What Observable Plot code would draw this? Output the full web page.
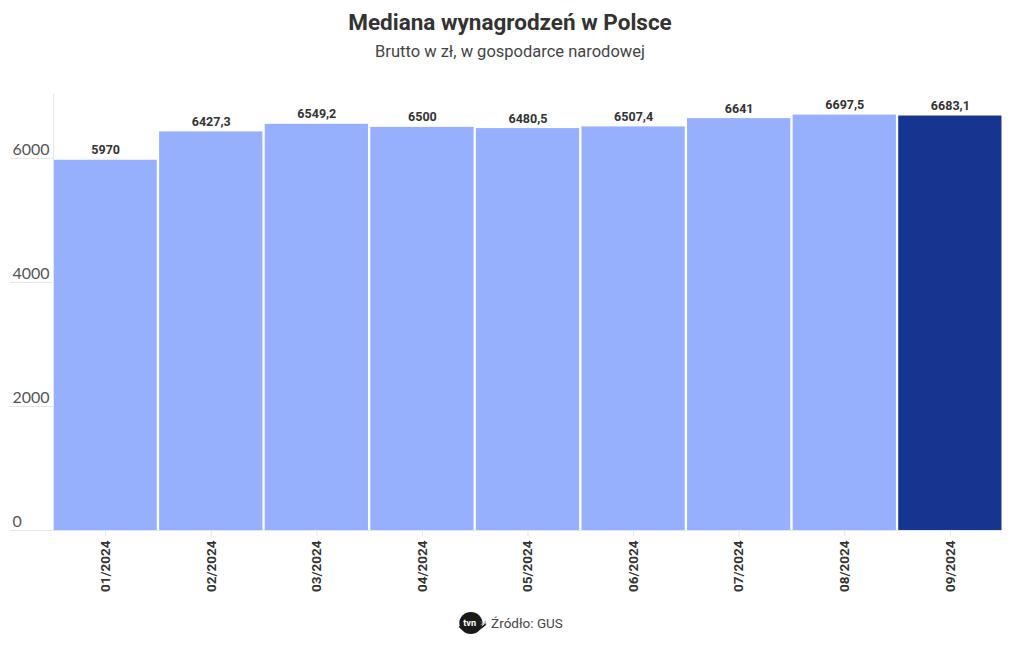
<!DOCTYPE html>
<html>
<head>
<meta charset="utf-8">
<script src="https://cdn.jsdelivr.net/npm/d3@7"></script>
<script src="https://cdn.jsdelivr.net/npm/@observablehq/plot@0.6"></script>
<style>
  body { margin: 0; background: #fff; font-family: Roboto, "Noto Sans", sans-serif; color: #333; }
  #wrap { width: 1020px; }
  .title { height: 36px; line-height: 36px; margin-top: 4px; text-align: center; font-size: 22.5px; font-weight: 700; color: #333; }
  .subtitle { height: 24px; line-height: 24px; text-align: center; font-size: 16.5px; color: #444; }
  #chart { margin-top: 6px; height: 540px; }
  .caption { height: 26px; line-height: 26px; text-align: center; font-size: 13.5px; color: #444; display: flex; justify-content: center; align-items: center; gap: 4px; }
</style>
</head>
<body>
<div id="wrap">
  <div class="title">Mediana wynagrodzeń w Polsce</div>
  <div class="subtitle">Brutto w zł, w gospodarce narodowej</div>
  <div id="chart"></div>
  <div class="caption">
    <svg width="30" height="26" viewBox="0 0 26 22"><ellipse cx="12" cy="11" rx="10" ry="9.5" fill="#1a1a1a"/><path d="M2 14 Q12 24 25 12" stroke="#1a1a1a" stroke-width="1.5" fill="none"/><text x="11" y="13.5" font-size="8" font-weight="700" fill="#fff" text-anchor="middle" font-family="Roboto">tvn</text><text x="20" y="12.5" font-size="5" fill="#888" font-family="Roboto">24</text></svg>
    <span>Źródło: GUS</span>
  </div>
</div>
<script>
const months = ["01/2024", "02/2024", "03/2024", "04/2024", "05/2024", "06/2024", "07/2024", "08/2024", "09/2024"];
const values = [5970, 6427.3, 6549.2, 6500, 6480.5, 6507.4, 6641, 6697.5, 6683.1];
const highlighted = "09/2024";
const yTicks = [0, 2000, 4000, 6000];

const data = months.map((m, i) => ({month: m, value: values[i]}));
const fmt = v => String(v).replace(".", ",");

const chart = Plot.plot({
  width: 1020,
  height: 540,
  marginLeft: 53,
  marginRight: 18,
  marginTop: 24,
  marginBottom: 80,
  style: {fontFamily: "Roboto, sans-serif", background: "#fff"},
  x: {domain: months, paddingInner: 0.022, paddingOuter: 0.005, round: false, label: null},
  y: {domain: [0, 7030], label: null},
  marks: [
    Plot.axisY({ticks: yTicks, tickSize: 43, stroke: "#e6e6e6", text: null}),
    Plot.axisY({ticks: yTicks, tickSize: 0, tickPadding: 41, textAnchor: "start", dy: -9, tickFormat: d => String(d), fontSize: 16, fontFamily: "Lato, sans-serif", fill: "#555"}),
    Plot.barY(data, {x: "month", y: "value", fill: d => d.month === highlighted ? "#163590" : "#96b0fe"}),
    Plot.frame({anchor: "left", stroke: "#e6e6e6"}),
    Plot.ruleY([0], {stroke: "#e6e6e6"}),
    Plot.text(data, {x: "month", y: "value", text: d => fmt(d.value), dy: -10, fontSize: 12.5, fontWeight: 700, fill: "#333"}),
    Plot.axisX({tickSize: 6, stroke: "#e6e6e6", tickRotate: -90, tickPadding: 4, fontSize: 13.5, fontWeight: 700, fill: "#333", label: null})
  ]
});
document.getElementById("chart").appendChild(chart);
</script>
</body>
</html>
